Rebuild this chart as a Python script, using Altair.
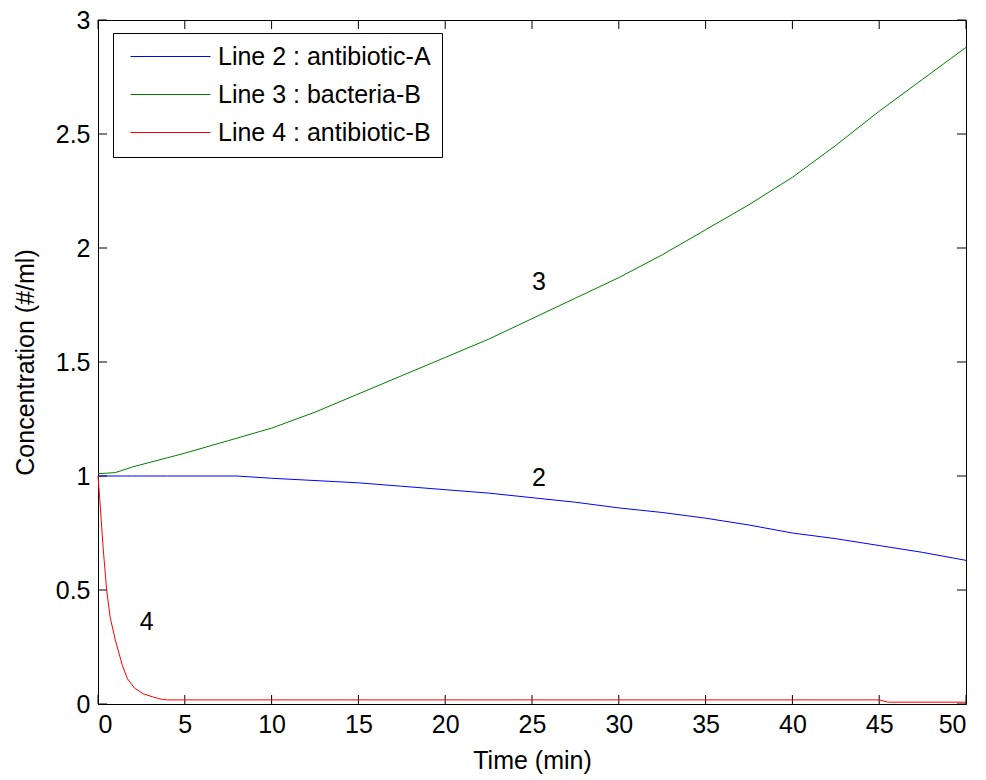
import altair as alt
import pandas as pd

# ---- data ----
t_blue = [0, 2, 4, 6, 8, 10, 12.5, 15, 17.5, 20, 22.5, 25, 27.5, 30, 32.5, 35, 37.5, 40, 42.5, 45, 47.5, 50]
blue = [1.0, 1.0, 1.0, 1.0, 1.0, 0.99, 0.98, 0.97, 0.955, 0.94, 0.925, 0.905, 0.885, 0.86, 0.84, 0.815, 0.785, 0.75, 0.725, 0.695, 0.665, 0.63]

t_green = [0, 1, 2, 3, 4, 5, 7.5, 10, 12.5, 15, 17.5, 20, 22.5, 25, 27.5, 30, 32.5, 35, 37.5, 40, 42.5, 45, 47.5, 50]
green = [1.01, 1.015, 1.04, 1.06, 1.08, 1.10, 1.155, 1.21, 1.28, 1.36, 1.44, 1.52, 1.60, 1.69, 1.78, 1.87, 1.97, 2.08, 2.19, 2.31, 2.45, 2.60, 2.74, 2.88]

t_red = [0, 0.1, 0.3, 0.5, 0.7, 1.0, 1.4, 1.7, 2.1, 2.6, 3.2, 3.7, 4.0, 10, 20, 30, 40, 45, 45.5, 50]
red = [1.0, 0.9, 0.68, 0.5, 0.38, 0.28, 0.17, 0.11, 0.07, 0.045, 0.03, 0.02, 0.018, 0.018, 0.018, 0.018, 0.018, 0.018, 0.008, 0.008]

series_names = ["Line 2 : antibiotic-A", "Line 3 : bacteria-B", "Line 4 : antibiotic-B"]
series_colors = ["#0000FF", "#008000", "#FF0000"]

label_text = ["2", "3", "4"]
label_x = [25.4, 25.4, 2.8]
label_y = [0.99, 1.85, 0.36]

x_ticks = [0, 5, 10, 15, 20, 25, 30, 35, 40, 45, 50]
y_ticks = [0, 0.5, 1, 1.5, 2, 2.5, 3]

FONT = "Liberation Sans"
FS = 25
W, H = 868, 684

rows = []
for name, ts, vs in zip(series_names, [t_blue, t_green, t_red], [blue, green, red]):
    for i, (t, v) in enumerate(zip(ts, vs)):
        rows.append({"series": name, "t": t, "v": v, "order": i})
df = pd.DataFrame(rows)

xscale = alt.Scale(domain=[0, 50], nice=False, zero=False)
yscale = alt.Scale(domain=[0, 3], nice=False, zero=False)

xaxis = alt.Axis(values=x_ticks, title="Time (min)", grid=False, ticks=False, tickSize=0,
                 labelPadding=8, labelFontSize=FS, labelFont=FONT, labelColor="black",
                 titleFontSize=FS, titleFont=FONT, titleFontWeight="normal", titleColor="black",
                 titleBaseline="alphabetic", titleY=64, domainColor="black")
yaxis = alt.Axis(values=y_ticks, title="Concentration (#/ml)", format="~g", grid=False, ticks=False,
                 tickSize=0, labelPadding=8, labelFontSize=FS, labelFont=FONT, labelColor="black",
                 titleFontSize=FS, titleFont=FONT, titleFontWeight="normal", titleColor="black",
                 titleBaseline="alphabetic", titleX=-65, domainColor="black")

# custom stroke symbol: unit path scaled by sqrt(size)/2 = 10 -> spans ~0..80 px from entry start
lines = alt.Chart(df).mark_line(strokeWidth=1).encode(
    x=alt.X("t:Q", scale=xscale, axis=xaxis),
    y=alt.Y("v:Q", scale=yscale, axis=yaxis),
    color=alt.Color("series:N",
                    scale=alt.Scale(domain=series_names, range=series_colors),
                    legend=alt.Legend(title=None, orient="none", legendX=15, legendY=13,
                                      symbolType="M-0.6,0H7.4", symbolSize=400, symbolStrokeWidth=1,
                                      symbolFillColor="transparent",
                                      labelFontSize=FS, labelFont=FONT, labelColor="black",
                                      labelOffset=69, labelLimit=0, padding=11, rowPadding=12,
                                      strokeColor="black", fillColor="white", cornerRadius=0)),
    order="order:Q",
)

lab_df = pd.DataFrame({"text": label_text, "x": label_x, "y": label_y})
labels = alt.Chart(lab_df).mark_text(fontSize=FS, font=FONT, color="black").encode(
    x=alt.X("x:Q", scale=xscale), y=alt.Y("y:Q", scale=yscale), text="text:N")

xt = pd.DataFrame({"x": x_ticks})
yt = pd.DataFrame({"y": y_ticks})
TL = 9
tb = alt.Chart(xt).mark_rule(color="black", strokeWidth=1).encode(
    x=alt.X("x:Q", scale=xscale), y=alt.value(H), y2=alt.value(H - TL))
tt = alt.Chart(xt).mark_rule(color="black", strokeWidth=1).encode(
    x=alt.X("x:Q", scale=xscale), y=alt.value(0), y2=alt.value(TL))
tl = alt.Chart(yt).mark_rule(color="black", strokeWidth=1).encode(
    y=alt.Y("y:Q", scale=yscale), x=alt.value(0), x2=alt.value(TL))
tr = alt.Chart(yt).mark_rule(color="black", strokeWidth=1).encode(
    y=alt.Y("y:Q", scale=yscale), x=alt.value(W), x2=alt.value(W - TL))

chart = alt.layer(tb, tt, tl, tr, lines, labels).properties(
    width=W, height=H,
    padding={"left": 98, "top": 20, "right": 20, "bottom": 76},
    autosize=alt.AutoSizeParams(type="none"),
    background="white",
).configure_view(stroke="black", strokeWidth=1)

chart.save("out.html", embed_options={"renderer": "svg", "actions": False})
